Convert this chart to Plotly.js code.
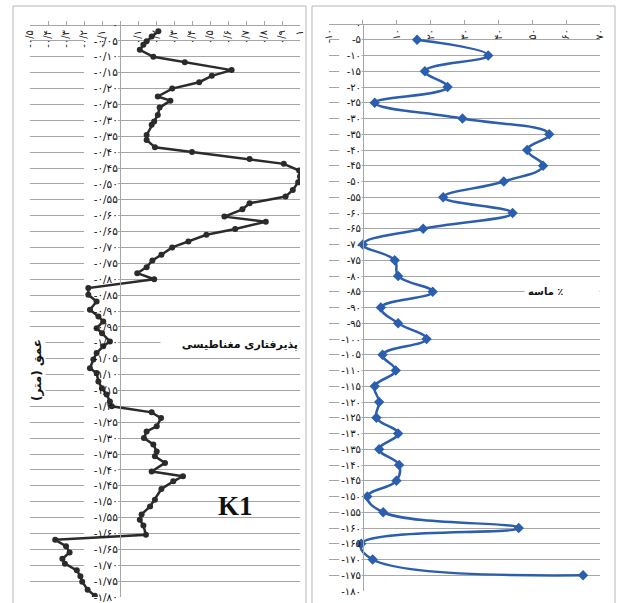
<!DOCTYPE html>
<html><head><meta charset="utf-8">
<script src="https://cdn.plot.ly/plotly-3.0.1.min.js"></script>
<style>html,body{margin:0;padding:0;background:#fff}#chart{width:620px;height:603px}</style>
</head><body><div id="chart"></div>
<script>
// Magnetic susceptibility (K1) vs depth (m)
const kDepth = [-0.02,-0.036,-0.051,-0.062,-0.078,-0.10,-0.117,-0.142,-0.16,-0.18,-0.20,-0.225,-0.238,-0.26,-0.283,
  -0.304,-0.314,-0.346,-0.362,-0.385,-0.40,-0.422,-0.437,-0.458,-0.477,-0.495,-0.519,-0.54,-0.561,-0.58,-0.603,
  -0.619,-0.642,-0.66,-0.681,-0.70,-0.723,-0.741,-0.762,-0.781,-0.80,-0.828,-0.849,-0.87,-0.896,-0.917,-0.933,
  -0.954,-0.97,-0.996,-1.011,-1.032,-1.053,-1.08,-1.095,-1.122,-1.143,-1.163,-1.185,-1.20,-1.219,-1.237,-1.263,
  -1.279,-1.30,-1.32,-1.342,-1.357,-1.378,-1.405,-1.42,-1.436,-1.46,-1.494,-1.515,-1.54,-1.557,-1.575,-1.604,
  -1.62,-1.64,-1.66,-1.68,-1.695,-1.716,-1.735,-1.752,-1.777,-1.796];
const kValue = [0.213,0.176,0.148,0.13,0.11,0.185,0.36,0.62,0.51,0.44,0.29,0.21,0.28,0.22,0.21,
  0.19,0.176,0.148,0.148,0.194,0.40,0.72,0.91,0.995,1.0,0.99,0.96,0.92,0.72,0.68,0.58,
  0.81,0.64,0.48,0.38,0.29,0.23,0.18,0.148,0.096,0.19,-0.176,-0.176,-0.13,-0.167,-0.12,-0.093,
  -0.13,-0.10,-0.056,-0.093,-0.13,-0.148,-0.167,-0.13,-0.12,-0.10,-0.074,-0.056,-0.046,0.176,0.228,0.204,
  0.148,0.133,0.185,0.204,0.194,0.25,0.176,0.35,0.296,0.23,0.194,0.167,0.12,0.11,0.13,0.144,
  -0.36,-0.30,-0.28,-0.32,-0.306,-0.24,-0.22,-0.21,-0.18,-0.14];

// Sand % vs depth (cm)
const sandDepth = [-5,-10,-15,-20,-25,-30,-35,-40,-45,-50,-55,-60,-65,-70,-75,-80,-85,-90,-95,-100,
  -105,-110,-115,-120,-125,-130,-135,-140,-145,-150,-155,-160,-165,-170,-175];
const sandValue = [16,37,18.3,25,3.5,29.4,55,48.5,53.2,41.6,23.7,44.2,17.8,0,9.4,10.4,20.6,5.3,10.4,18.8,
  5.8,9.7,3.5,4.8,4.0,10.4,4.8,10.7,9.9,1.3,6.0,46,-0.5,2.9,65];

const kXTicks = [-0.5,-0.4,-0.3,-0.2,-0.1,0,0.1,0.2,0.3,0.4,0.5,0.6,0.7,0.8,0.9,1];
const sandXTicks = [-10,0,10,20,30,40,50,60,70];
const kYTicks = []; for (let i = 0; i <= 36; i++) kYTicks.push(-i*0.05);
const sandYTicks = []; for (let i = 0; i <= 36; i++) sandYTicks.push(-i*5);

const RLM = '\u200F';
const legendK = 'پذیرفتاری مغناطیسی';
const legendSand = '٪ ماسه';
const depthTitle = 'عمق (متر)';
const panelLabel = 'K1';

const FA = '۰۱۲۳۴۵۶۷۸۹';
function fa(v, dec) {
  if (Math.abs(v) < 1e-9) return '۰';
  let s = (dec === null) ? String(Number(Math.abs(v).toFixed(2))) : Math.abs(v).toFixed(dec);
  s = s.replace('.', '/').replace(/[0-9]/g, d => FA[d]);
  return (v < 0 ? '-' : '') + s;
}
const kXText = kXTicks.map(v => Math.abs(v) < 1e-9 ? '' : fa(v, null));
const sandXText = sandXTicks.map(v => v === 0 ? '' : fa(v, 0));
const kYText = kYTicks.map(v => fa(v, 2));
const sandYText = sandYTicks.map(v => fa(v, 0));

const W = 620, H = 603;
const px = v => v / W, py = v => 1 - v / H;
const font = 'DejaVu Sans, sans-serif';
const grid = '#a6a6a6';
const xTickFont = {size: 10, family: font, color: '#222'};

const traces = [
  {x: kValue, y: kDepth, xaxis: 'x', yaxis: 'y', type: 'scatter', mode: 'lines+markers',
   line: {color: '#2b2b2b', width: 2.5}, marker: {color: '#2b2b2b', size: 6}, hoverinfo: 'skip'},
  {x: sandValue, y: sandDepth, xaxis: 'x2', yaxis: 'y2', type: 'scatter', mode: 'lines+markers',
   line: {color: '#2b5fae', width: 2.5, shape: 'spline', smoothing: 1.2},
   marker: {color: '#2b5fae', size: 8, symbol: 'diamond'}, hoverinfo: 'skip'}
];

const layout = {
  width: W, height: H, margin: {l: 0, r: 0, t: 0, b: 0},
  paper_bgcolor: '#fff', plot_bgcolor: 'rgba(0,0,0,0)', showlegend: false,
  font: {family: font, color: '#111'},
  xaxis: {domain: [px(30), px(300)], range: [-0.5, 1], anchor: 'free', position: py(25), side: 'bottom',
    showgrid: false, zeroline: false, showline: true, linecolor: grid,
    ticks: 'inside', ticklen: 4, tickcolor: grid, tickvals: kXTicks, ticktext: kXText,
    tickangle: -90, tickfont: xTickFont},
  yaxis: {domain: [1 - 597/H, 1 - 25/H], range: [-1.8, 0], anchor: 'free', position: px(120),
    showgrid: true, gridcolor: grid, gridwidth: 1, zeroline: false, showline: true, linecolor: grid,
    ticks: '', tickvals: kYTicks, ticktext: kYText, tickfont: {size: 10.5, family: font, color: '#111'}},
  xaxis2: {domain: [px(329), px(600)], range: [-10, 70], anchor: 'free', position: py(24), side: 'bottom',
    showgrid: false, zeroline: false, showline: true, linecolor: grid,
    ticks: 'inside', ticklen: 4, tickcolor: grid, tickvals: sandXTicks, ticktext: sandXText,
    tickangle: -90, tickfont: xTickFont},
  yaxis2: {domain: [1 - 591/H, 1 - 24/H], range: [-180, 0], anchor: 'free', position: px(363),
    showgrid: true, gridcolor: grid, gridwidth: 1, zeroline: false, showline: true, linecolor: grid,
    ticks: '', tickvals: sandYTicks, ticktext: sandYText, tickfont: {size: 10, family: font, color: '#111'}},
  shapes: [
    {type: 'rect', xref: 'paper', yref: 'paper', x0: px(13), x1: px(306), y0: py(6), y1: py(610),
     line: {color: '#b5b5b5', width: 1}, fillcolor: 'rgba(0,0,0,0)'},
    {type: 'rect', xref: 'paper', yref: 'paper', x0: px(312), x1: px(615), y0: py(6), y1: py(610),
     line: {color: '#b5b5b5', width: 1}, fillcolor: 'rgba(0,0,0,0)'},
    {type: 'rect', xref: 'x', yref: 'y', x0: -0.2, x1: -0.012, y0: -1.82, y1: -0.004, layer: 'between',
     line: {width: 0}, fillcolor: '#fff'},
    {type: 'rect', xref: 'x2', yref: 'y2', x0: -7, x1: -0.4, y0: -182, y1: -0.4, layer: 'between',
     line: {width: 0}, fillcolor: '#fff'}
  ],
  annotations: [
    {xref: 'paper', yref: 'paper', x: px(28), y: py(370), text: '<b>' + RLM + depthTitle + RLM + '</b>', textangle: -90,
     showarrow: false, bgcolor: '#fff', font: {size: 12, family: font, color: '#111'}},
    {xref: 'paper', yref: 'paper', x: px(300), y: py(344), xanchor: 'right', width: 136, align: 'right',
     text: '<b>' + legendK + '</b>', showarrow: false, bgcolor: '#fff', font: {size: 11, family: font, color: '#111'}},
    {xref: 'paper', yref: 'paper', x: px(600), y: py(291), xanchor: 'right', width: 68, align: 'left',
     text: '<b>' + RLM + legendSand + '</b>', showarrow: false, bgcolor: '#fff', borderpad: 3,
     font: {size: 10, family: font, color: '#111'}},
    {xref: 'paper', yref: 'paper', x: px(236), y: py(523), text: '<b>' + panelLabel + '</b>',
     showarrow: false, font: {size: 27, family: 'Liberation Serif, serif', color: '#111'}}
  ]
};

Plotly.newPlot('chart', traces, layout, {staticPlot: true, displayModeBar: false});
</script></body></html>
